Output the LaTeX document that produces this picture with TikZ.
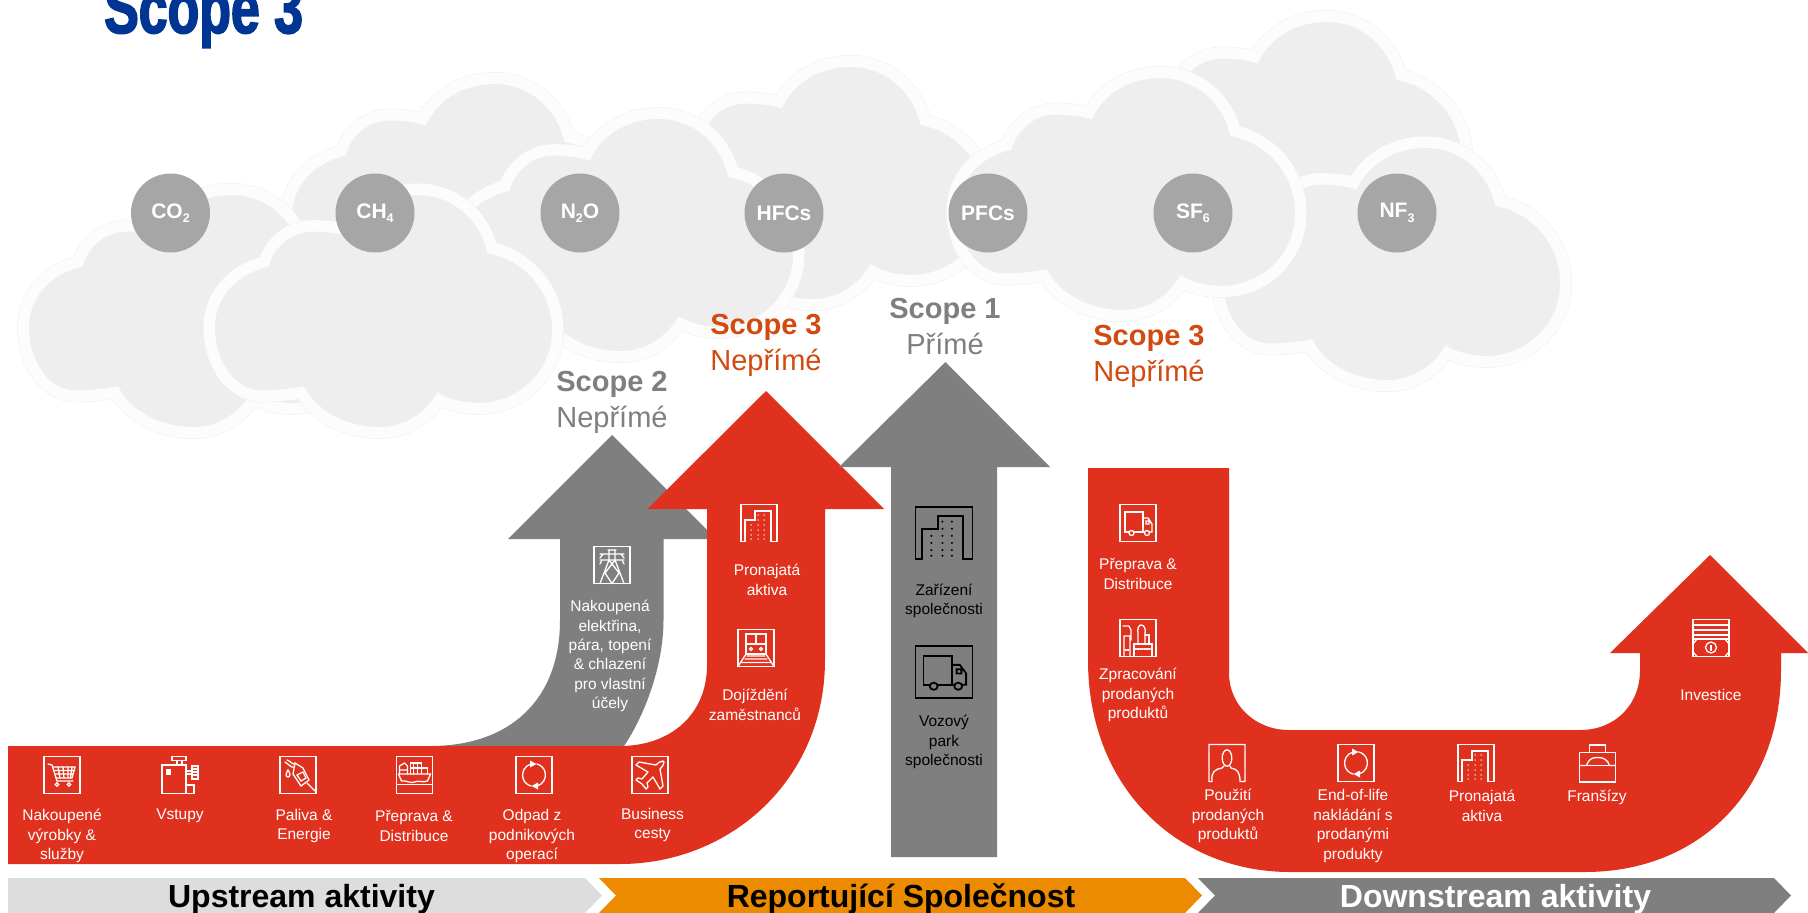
\documentclass[tikz,border=0pt]{standalone}
\usepackage{fontspec}
\setmainfont{Liberation Sans}
\newfontfamily\titlef[FakeStretch=0.72,FakeBold=2.2]{Liberation Sans Bold}
\usetikzlibrary{arrows.meta}
\definecolor{rd}{HTML}{E0311E}
\definecolor{gy}{HTML}{7F7F7F}
\definecolor{orng}{HTML}{EC8A00}
\definecolor{lgy}{HTML}{DDDDDD}
\definecolor{blu}{HTML}{003594}
\definecolor{scp}{HTML}{D24A0F}
\definecolor{circ}{HTML}{A6A6A6}
\definecolor{cl}{HTML}{EEEEEE}
\definecolor{halo}{HTML}{FCFCFC}
\definecolor{haloedge}{HTML}{EFEFEF}
\newcommand{\cloudpath}{(0.159,0.31) .. controls (0.175,0.22) and (0.23,0.158) .. (0.29,0.158)
 .. controls (0.33,0.158) and (0.37,0.165) .. (0.397,0.18)
 .. controls (0.43,0.07) and (0.51,0) .. (0.60,0)
 .. controls (0.70,0) and (0.785,0.10) .. (0.808,0.25)
 .. controls (0.92,0.28) and (1,0.42) .. (1,0.583)
 .. controls (1,0.76) and (0.90,0.896) .. (0.78,0.896)
 .. controls (0.735,0.896) and (0.695,0.88) .. (0.66,0.849)
 .. controls (0.625,0.94) and (0.56,1) .. (0.49,1)
 .. controls (0.39,1) and (0.30,0.93) .. (0.265,0.824)
 .. controls (0.225,0.835) and (0.18,0.842) .. (0.139,0.842)
 .. controls (0.06,0.842) and (0,0.72) .. (0,0.568)
 .. controls (0,0.44) and (0.07,0.335) .. cycle}
\newcommand{\cloudat}[2]{\begin{scope}[shift={(#1,#2)},x=337pt,y=-232pt]
 \draw[haloedge,line width=24pt,line join=round] \cloudpath;
 \draw[halo,fill=cl,line width=23pt,line join=round] \cloudpath;
 \fill[cl] \cloudpath;
\end{scope}}
\newcommand{\gsub}[1]{\raisebox{-0.4ex}{\fontsize{12.5}{12.5}\selectfont #1}}
\newcommand{\gt}[1]{\raisebox{-2pt}{#1}}
% icons, drawn round (0,0), about 36 x 37 px
\newcommand{\frm}{\draw (-18,-18.5) rectangle (18,18.5);}
\newcommand{\icart}{\frm
 \draw (-14,-11) -- (-10,-10) -- (-5,6) -- (11,6);
 \draw (-9,-8) -- (13,-8) -- (10,3) -- (-6,3);
 \draw (-8,-4.5) -- (12,-4.5) (-7,-1) -- (11,-1) (-4,-8) -- (-2,3) (1,-8) -- (2,3) (6,-8) -- (6,3) (10,-8) -- (8.5,3);
 \draw (-5,9.5) circle (1.8) (7,9.5) circle (1.8);}
\newcommand{\imach}{\draw (-18,-10) -- (6,-10) -- (6,10) -- (14,10) -- (14,18.5) -- (-18,18.5) -- cycle (6,10) -- (6,18.5);
 \draw (-8,-18.5) rectangle (6,-14.5) (-3,-14.5) -- (-3,-10) (2,-14.5) -- (2,-10);
 \fill[white] (-14,-6) rectangle (-9,0);
 \draw (6,-4) -- (12,-4) (6,-1) -- (12,-1);
 \draw (12,-9) rectangle (18,4);
 \draw (12,-6) -- (18,-6) (12,-3) -- (18,-3) (12,0) -- (18,0);}
\newcommand{\ifuel}{\frm
 \draw (-11,-15) .. controls (-7,-14) and (-6,-10) .. (-2,-11) (-13,-13) .. controls (-8,-10) and (-7,-7) .. (-4,-8);
 \draw (-3,-12) -- (5,-7) -- (11,5) -- (3,11) -- (-5,-1) -- cycle;
 \draw (-1,0) -- (5,-3) -- (8,3) -- (3,6) -- cycle;
 \draw (9,8) -- (17,16);
 \draw (-10,-5) .. controls (-13,-1) and (-12,2) .. (-10,2) .. controls (-8,2) and (-7,-1) .. cycle;}
\newcommand{\iship}{\frm
 \draw (-18,9.5) -- (18,9.5);
 \draw (-16,-1) -- (16,-1) -- (13,6) .. controls (8,8) and (4,5) .. (0,7) .. controls (-4,9) and (-8,5) .. (-13,6) -- cycle;
 \draw (-15,-1) -- (-15,-9) -- (-10,-12) -- (-7,-9) -- (-7,-1) (-15,-5) -- (-7,-5);
 \draw (-4,-1) -- (-4,-12) -- (7,-12) -- (7,-1) (-4,-7) -- (13,-7) -- (13,-1) (-1,-12) -- (-1,-1) (3,-12) -- (3,-1) (7,-7) -- (7,-1);}
\newcommand{\irec}{\frm
 \draw (-3,-11) arc[start angle=-105,end angle=-255,radius=11.4];
 \draw (3,11) arc[start angle=75,end angle=-75,radius=11.4];
 \fill[white] (-4,-14.5) -- (2.5,-11) -- (-4,-7.5) -- cycle;
 \fill[white] (4,14.5) -- (-2.5,11) -- (4,7.5) -- cycle;}
\newcommand{\iplane}{\frm
 \draw[line join=round] (13,-14) .. controls (10,-14) and (8,-12) .. (6,-10) -- (-11,-13) -- (-14,-10) -- (-2,-3) -- (-8,4) -- (-12,3) -- (-14,5) -- (-8,9) -- (-4,14) -- (-2,12) -- (-3,8) -- (3,2) -- (10,14) -- (13,11) -- (10,-6) .. controls (12,-8) and (14,-10) .. (14,-13) -- cycle;}
\newcommand{\ibldg}{\draw (-14,18.5) -- (-18,18.5) -- (-18,-18.5) -- (18,-18.5) -- (18,18.5) -- (12,18.5) -- (12,-12) -- (-4,-12) -- (-4,-3) -- (-14,-3) -- cycle;
 \foreach \xx in {-8,-1,5} \foreach \yy in {2,7,12,16} \fill (\xx,\yy) circle (0.75);
 \foreach \xx in {-1,5} \foreach \yy in {-8,-3} \fill (\xx,\yy) circle (0.75);}
\newcommand{\ipylon}{\frm
 \draw (-12,-11) -- (12,-11) (-9,-11) -- (-12,-7) (9,-11) -- (12,-7) (-12,-5) -- (12,-5) (-10,-5) -- (-12,-1) (10,-5) -- (12,-1);
 \draw (-4,-15) -- (4,-15) (-3,-15) -- (-3,-5) -- (-12,18.5) (3,-15) -- (3,-5) -- (12,18.5) (-3,-5) -- (7,8) (3,-5) -- (-7,8) (-7,8) -- (0,18.5) (7,8) -- (0,18.5) ;}
\newcommand{\itrain}{\frm
 \draw (-10,-14) rectangle (10,6) (-10,-4) -- (10,-4) (0,-14) -- (0,-4);
 \draw (-5,1) circle (1.5) (5,1) circle (1.5);
 \draw (-9,8) -- (9,8) (-11,11) -- (11,11) (-14,14.5) -- (14,14.5) (-18,18.5) -- (-10,6) (18,18.5) -- (10,6);}
\newcommand{\itruck}{\frm
 \draw (-9,9) -- (-13,9) -- (-13,-11) -- (5,-11) -- (5,9) -- (-4,9);
 \draw (5,-5) -- (10,-5) -- (14,1) -- (14,9) -- (11,9) (5,9) -- (7,9) (8,-2) rectangle (11,1);
 \draw (-6.5,10) circle (2.5) (9,10) circle (2.5);}
\newcommand{\ifact}{\frm
 \draw (-14,-2) -- (-14,18.5) (-8,-2) -- (-8,18.5) (-14,-2) -- (-8,-2) (-15,-12) -- (-9,-12) -- (-7,-8) -- (-7,2);
 \draw (-4,18.5) -- (-4,6) -- (14,6) -- (14,18.5);
 \draw (0,6) -- (0,-4) .. controls (-1,-10) and (1,-13) .. (3,-13) .. controls (6,-13) and (8,-10) .. (7,-4) -- (7,6);
 \draw (7,-3) -- (11,-3) -- (11,6);
 \draw[densely dotted] (-13,12) -- (-9,12) (-3,11) -- (13,11);}
\newcommand{\iperson}{\draw (-16,18.5) -- (-18,18.5) -- (-18,-18.5) -- (18,-18.5) -- (18,18.5) -- (13,18.5) .. controls (13,9) and (10,6) .. (4,5) -- (3,3) (-3,3) -- (-5,5) .. controls (-12,6) and (-16,9) .. (-15,18.5) -- (-18,18.5);
 \draw (0,-5) ellipse (4.8 and 8.2);}
\newcommand{\ibag}{\draw (-18,-11) rectangle (18,18.5);
 \draw (-8,-18.5) rectangle (8,-11);
 \draw (-18,2) -- (-11,2) .. controls (-9,-4) and (-6,-6) .. (0,-6) .. controls (6,-6) and (10,-4) .. (12,2) -- (18,2);
 \draw (-11,2) -- (12,2);}
\newcommand{\imoney}{\frm
 \draw (-18,-13) -- (18,-13) (-18,-8) -- (18,-8) (-18,-3) -- (18,-3);
 \draw (-18,1) -- (18,1);
 \draw (-18,6) -- (-14,1) (18,6) -- (14,1) (-18,14) -- (-14,18.5) (18,14) -- (14,18.5);
 \draw (0,9.5) circle (5.5);
 \fill[white] (-1.2,6.5) rectangle (1.2,12.5);}
\tikzset{
 icon/.style={white,line width=1.3pt,line cap=round,line join=miter},
 iconblack/.style={black,line width=1.8pt,line join=miter},
 lab/.style={text=white,inner sep=0pt,align=center,font=\fontsize{15.5}{19.4}\selectfont},
 labk/.style={text=black,inner sep=0pt,align=center,font=\fontsize{15.5}{19.4}\selectfont},
 gas/.style={circle,fill=circ,minimum size=79pt,inner sep=0pt,text=white,font=\fontsize{21}{22}\selectfont\bfseries},
 bar/.style={inner sep=0pt,font=\fontsize{32}{34}\selectfont\bfseries},
 scopelab/.style={inner sep=0pt,align=center,font=\fontsize{29}{36}\selectfont},
}
\begin{document}
\begin{tikzpicture}[x=1pt,y=-1pt]
\useasboundingbox (0,0) rectangle (1808,913);
\fill[white] (0,0) rectangle (1808,913);
% title
\node[anchor=base west,inner sep=0pt,text=blu,font=\titlef\fontsize{72}{72}\selectfont] (title) at (104,33) {Scope 3};
% clouds
\cloudat{292}{84}
\cloudat{648}{67}
\cloudat{1124}{22}
\cloudat{1223}{148}
\cloudat{958}{78}
\cloudat{456}{119}
\cloudat{29}{195}
\cloudat{215}{195}
% gases
\node[gas] (co2) at (170.5,213) {\gt{CO\gsub{2}}};
\node[gas] (ch4) at (375,213) {\gt{CH\gsub{4}}};
\node[gas] (n2o) at (580,213) {\gt{N\gsub{2}O}};
\node[gas] (hfc) at (784,213) {\gt{HFCs}};
\node[gas] (pfc) at (988,213) {\gt{PFCs}};
\node[gas] (sf6) at (1193,213) {\gt{SF\gsub{6}}};
\node[gas] (nf3) at (1397,213) {\gt{NF\gsub{3}}};
% scope labels
\node[scopelab,text=gy] (s2) at (612,402.5) {\textbf{Scope 2}\\Nepřímé};
\node[scopelab,text=scp] (s3a) at (766,345) {\textbf{Scope 3}\\Nepřímé};
\node[scopelab,text=gy] (s1) at (945,327) {\textbf{Scope 1}\\Přímé};
\node[scopelab,text=scp] (s3b) at (1149,356.5) {\textbf{Scope 3}\\Nepřímé};
% arrows
\fill[gy] (612,435) -- (716,539) -- (663.5,539) -- (663.5,620) .. controls (663.5,665) and (645,715) .. (624,746) -- (624,760) -- (430,760) -- (430,746) .. controls (510,746) and (560,700) .. (560,620) -- (560,539) -- (508,539) -- cycle;
\fill[rd] (8,746) -- (620,746) .. controls (670,746) and (707,715) .. (707,665) -- (707,509) -- (647.5,509) -- (766,391) -- (884,509) -- (825,509) -- (825,660) .. controls (825,780) and (730,864) .. (620,864) -- (8,864) -- cycle;
\fill[gy] (945.5,362) -- (1050,467) -- (997,467) -- (997,857) -- (891,857) -- (891,467) -- (839,467) -- cycle;
\fill[rd] (1088,468) -- (1229,468) -- (1229,673) .. controls (1229,705) and (1255,730) .. (1289,730) -- (1580,730) .. controls (1615,730) and (1640,705) .. (1640,670) -- (1640,653) -- (1610,653) -- (1710,555) -- (1808,653) -- (1781,653) -- (1781,670) .. controls (1781,790) and (1700,872) .. (1585,872) -- (1290,872) .. controls (1180,872) and (1088,790) .. (1088,660) -- cycle;
% bars
\fill[lgy] (8,878) -- (585,878) -- (602,895.5) -- (585,913) -- (8,913) -- cycle;
\fill[orng] (599,878) -- (1185,878) -- (1202,895.5) -- (1185,913) -- (599,913) -- (616,895.5) -- cycle;
\fill[gy] (1198,878) -- (1774,878) -- (1791,895.5) -- (1774,913) -- (1198,913) -- (1215,895.5) -- cycle;
\node[bar,text=black] (up) at (301.5,899) {Upstream aktivity};
\node[bar,text=black] (rep) at (901,899) {Reportující Společnost};
\node[bar,text=white] (down) at (1495.5,899) {Downstream aktivity};
% icons
\begin{scope}[shift={(62,775)},icon]\icart\end{scope}
\begin{scope}[shift={(180,775)},icon]\imach\end{scope}
\begin{scope}[shift={(298,775)},icon]\ifuel\end{scope}
\begin{scope}[shift={(414.5,775)},icon]\iship\end{scope}
\begin{scope}[shift={(534,775)},icon]\irec\end{scope}
\begin{scope}[shift={(650,775)},icon]\iplane\end{scope}
\begin{scope}[shift={(759,523)},icon]\ibldg\end{scope}
\begin{scope}[shift={(756,648)},icon]\itrain\end{scope}
\begin{scope}[shift={(612,565)},icon]\ipylon\end{scope}
\begin{scope}[shift={(944,533)},iconblack,scale=1.58,yscale=0.9]\ibldg\end{scope}
\begin{scope}[shift={(944,672)},iconblack,scale=1.58,yscale=0.9]\itruck\end{scope}
\begin{scope}[shift={(1138,523)},icon]\itruck\end{scope}
\begin{scope}[shift={(1138,638)},icon]\ifact\end{scope}
\begin{scope}[shift={(1227,763)},icon]\iperson\end{scope}
\begin{scope}[shift={(1356,763)},icon]\irec\end{scope}
\begin{scope}[shift={(1476,763)},icon]\ibldg\end{scope}
\begin{scope}[shift={(1597.5,763.5)},icon]\ibag\end{scope}
\begin{scope}[shift={(1711,638)},icon]\imoney\end{scope}
% labels
\node[lab] (a1) at (62,836) {Nakoupené\\výrobky \&\\služby};
\node[lab] (a2) at (180,816) {Vstupy};
\node[lab] (a3) at (304,826) {Paliva \&\\Energie};
\node[lab] (a4) at (414,826) {Přeprava \&\\Distribuce};
\node[lab] (a5) at (532,836) {Odpad z\\podnikových\\operací};
\node[lab] (a6) at (652.5,825) {Business\\cesty};
\node[lab] (b1) at (767,580) {Pronajatá\\aktiva};
\node[lab] (b2) at (755,705) {Dojíždění\\zaměstnanců};
\node[lab] (c1) at (610,656) {Nakoupená\\elektřina,\\pára, topení\\\& chlazení\\pro vlastní\\účely};
\node[labk] (d1) at (944,601) {Zařízení\\společnosti};
\node[labk] (d2) at (944,742) {Vozový\\park\\společnosti};
\node[lab] (e1) at (1138,574) {Přeprava \&\\Distribuce};
\node[lab] (e2) at (1138,695) {Zpracování\\prodaných\\produktů};
\node[lab] (e3) at (1228,816) {Použití\\prodaných\\produktů};
\node[lab] (e4) at (1353,826) {End-of-life\\nakládání s\\prodanými\\produkty};
\node[lab] (e5) at (1482,806) {Pronajatá\\aktiva};
\node[lab] (e6) at (1597,797) {Franšízy};
\node[lab] (e7) at (1711,695) {Investice};
\end{tikzpicture}
\end{document}
